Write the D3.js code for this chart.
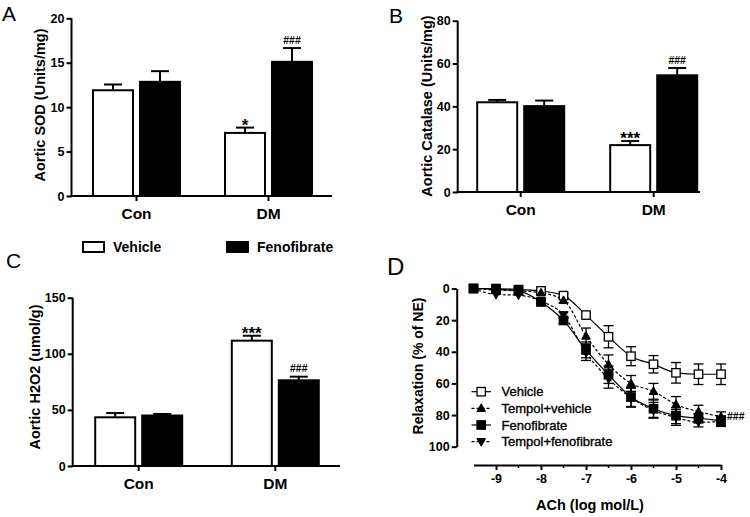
<!DOCTYPE html>
<html><head><meta charset="utf-8">
<script src="https://cdn.jsdelivr.net/npm/d3@7"></script>
<style>
body{margin:0;background:#fff;}
svg{display:block;}
</style></head>
<body>
<script>
// ---------- data ----------
const groups = ["Con", "DM"];
const seriesNames = ["Vehicle", "Fenofibrate"];

const sodVehicle = [11.9, 7.1];
const sodVehicleErr = [0.65, 0.6];
const sodFeno = [12.85, 15.1];
const sodFenoErr = [1.2, 1.55];
const sodMarks = ["", "", "*", "###"];
const sodTicks = [0, 5, 10, 15, 20];

const catVehicle = [41.9, 21.9];
const catVehicleErr = [1.1, 1.9];
const catFeno = [40.1, 54.5];
const catFenoErr = [2.6, 3.4];
const catMarks = ["", "", "***", "###"];
const catTicks = [0, 20, 40, 60, 80];

const h2o2Vehicle = [43.4, 111.7];
const h2o2VehicleErr = [3.8, 4.4];
const h2o2Feno = [45.0, 76.4];
const h2o2FenoErr = [1.4, 3.2];
const h2o2Marks = ["", "", "***", "###"];
const h2o2Ticks = [0, 50, 100, 150];

const logConc = [-9.5, -9, -8.5, -8, -7.5, -7, -6.5, -6, -5.5, -5, -4.5, -4];
const vehicleMean = [0, 0, 0.7, 1.5, 4.5, 16.8, 30.5, 42.8, 47.9, 53.3, 54.2, 54.2];
const vehicleErr = [0, 0.6, 0.8, 1, 1.2, 1.5, 7, 6, 5.5, 6.5, 6.5, 6.5];
const tempolVehMean = [0, 1, 1.5, 2.7, 7.5, 30, 48, 60, 65, 73.3, 77.8, 81];
const tempolVehErr = [0, 0.5, 0.8, 1, 1.5, 5, 6, 5, 5, 5, 4, 3];
const fenoMean = [0, 0.5, 1.5, 8.5, 20.2, 38.8, 54.5, 68.6, 76, 80.4, 82, 83.5];
const fenoErr = [0, 0.5, 0.8, 1.2, 2, 5, 5.5, 6, 5.5, 5, 3, 3];
const tempolFenoMean = [0, 3.8, 4.2, 8, 16.8, 40.5, 57, 69, 77, 81.5, 84.5, 84.2];
const tempolFenoErr = [0, 0.6, 0.8, 1.2, 2, 5, 6, 6, 5, 5, 3, 3];
const curveNames = ["Vehicle", "Tempol+vehicle", "Fenofibrate", "Tempol+fenofibrate"];
const xTicksD = [-9, -8, -7, -6, -5, -4];
const xMinorD = [-8.5, -7.5, -6.5, -5.5, -4.5];
const yTicksD = [0, 20, 40, 60, 80, 100];

// ---------- drawing ----------
const W = 750, H = 517;
const svg = d3.select("body").append("svg").attr("width", W).attr("height", H);
svg.append("rect").attr("width", W).attr("height", H).attr("fill", "#fff");

const ARIAL = "'Liberation Sans', Arial, sans-serif";

function panelLetter(t, x, y, size) {
  svg.append("text").attr("x", x).attr("y", y).text(t)
    .attr("font-family", ARIAL).attr("font-size", size).attr("fill", "#000");
}

function barPanel(o) {
  const g = svg.append("g");
  const y = d3.scaleLinear().domain([0, o.max]).range([o.y0, o.yTop]);
  const x = d3.scaleBand().domain(groups).range([o.c0 - o.step / 2, o.c0 + o.step * 1.5]);
  const xs = d3.scaleBand().domain(seriesNames).range([0, 87]).paddingInner(2 - 87 / 47);
  const vals = [[o.veh, o.vehErr], [o.feno, o.fenoErr]];
  const rows = [];
  groups.forEach((grp, gi) => {
    seriesNames.forEach((s, si) => {
      rows.push({grp, s, si, v: vals[si][0][gi], e: vals[si][1][gi], mark: o.marks[gi * 2 + si]});
    });
  });
  const bx = d => x(d.grp) + x.bandwidth() / 2 - 43.5 + xs(d.s);
  rows.forEach(d => {
    const cx = bx(d) + xs.bandwidth() / 2;
    g.append("line").attr("x1", cx).attr("x2", cx).attr("y1", y(d.v)).attr("y2", y(d.v + d.e))
      .attr("stroke", "#000").attr("stroke-width", 2);
    g.append("line").attr("x1", cx - 9).attr("x2", cx + 9).attr("y1", y(d.v + d.e)).attr("y2", y(d.v + d.e))
      .attr("stroke", "#000").attr("stroke-width", 2);
    if (d.mark) {
      const star = d.mark.startsWith("*");
      g.append("text").attr("x", cx).attr("y", star ? y(d.v + d.e) + 3 : y(d.v + d.e) - 4.5)
        .attr("text-anchor", "middle").text(d.mark)
        .attr("font-family", ARIAL).attr("font-weight", "bold")
        .attr("font-size", star ? 17 : 10.5).attr("fill", "#000");
    }
  });
  g.selectAll("rect.bar").data(rows).join("rect").attr("class", "bar")
    .attr("x", bx).attr("width", xs.bandwidth())
    .attr("y", d => y(d.v)).attr("height", d => y(0) - y(d.v))
    .attr("fill", d => d.si === 0 ? "#fff" : "#000")
    .attr("stroke", "#000").attr("stroke-width", 2);
  const ya = g.append("g").attr("transform", `translate(${o.ax},0)`)
    .call(d3.axisLeft(y).tickValues(o.ticks).tickSize(5).tickSizeOuter(0).tickPadding(2));
  ya.select(".domain").attr("stroke-width", 2).attr("d", `M0,${o.y0}V${o.yTop}`);
  ya.selectAll(".tick line").attr("stroke-width", 2);
  ya.selectAll("text").attr("font-family", ARIAL).attr("font-weight", "bold").attr("font-size", 12.5).attr("fill", "#000");
  g.append("line").attr("x1", o.ax - 1).attr("x2", o.xEnd).attr("y1", o.y0).attr("y2", o.y0)
    .attr("stroke", "#000").attr("stroke-width", 2);
  const xa = g.append("g").attr("transform", `translate(0,${o.y0})`)
    .call(d3.axisBottom(x).tickSize(5).tickPadding(7));
  xa.select(".domain").remove();
  xa.selectAll(".tick line").attr("stroke-width", 2);
  xa.selectAll("text").attr("font-family", ARIAL).attr("font-weight", "bold").attr("font-size", 15.5).attr("fill", "#000");
  g.append("text").attr("transform", `translate(${o.tx},${o.ty}) rotate(-90)`)
    .attr("text-anchor", "middle").attr("dy", "0.35em").text(o.title)
    .attr("font-family", ARIAL).attr("font-weight", "bold").attr("font-size", 14.5).attr("fill", "#000");
}

panelLetter("A", 2, 21, 21);
barPanel({veh: sodVehicle, vehErr: sodVehicleErr, feno: sodFeno, fenoErr: sodFenoErr, marks: sodMarks,
  ticks: sodTicks, max: 20, y0: 196, yTop: 18.3, ax: 71.5, c0: 136.5, step: 132, xEnd: 332,
  title: "Aortic SOD (Units/mg)", tx: 40, ty: 105});

panelLetter("B", 389, 23, 21);
barPanel({veh: catVehicle, vehErr: catVehicleErr, feno: catFeno, fenoErr: catFenoErr, marks: catMarks,
  ticks: catTicks, max: 80, y0: 192, yTop: 20.7, ax: 457.7, c0: 520.7, step: 133, xEnd: 700,
  title: "Aortic Catalase (Units/mg)", tx: 427, ty: 106});

panelLetter("C", 6, 268, 21);
barPanel({veh: h2o2Vehicle, vehErr: h2o2VehicleErr, feno: h2o2Feno, fenoErr: h2o2FenoErr, marks: h2o2Marks,
  ticks: h2o2Ticks, max: 150, y0: 466, yTop: 297.7, ax: 72.7, c0: 138.7, step: 136.6, xEnd: 340,
  title: "Aortic H2O2 (umol/g)", tx: 35, ty: 377});

const leg = svg.append("g");
seriesNames.forEach((s, i) => {
  const lx = [83, 227][i];
  leg.append("rect").attr("x", lx).attr("y", 242).attr("width", 21).attr("height", 10)
    .attr("fill", i === 0 ? "#fff" : "#000").attr("stroke", "#000").attr("stroke-width", 2);
  leg.append("text").attr("x", lx + 30).attr("y", 247).attr("dy", "0.36em").text(s)
    .attr("font-family", ARIAL).attr("font-weight", "bold").attr("font-size", 14).attr("fill", "#000");
});

// ---------- panel D ----------
panelLetter("D", 387, 275, 24);
const gD = svg.append("g");
const xD = d3.scaleLinear().domain([-9.5, -4]).range([473.5, 721]);
const yD = d3.scaleLinear().domain([0, 100]).range([288.5, 446.7]);

const yaD = gD.append("g").attr("transform", "translate(456.7,0)")
  .call(d3.axisLeft(yD).tickValues(yTicksD).tickSize(5).tickSizeOuter(0).tickPadding(2));
yaD.select(".domain").attr("stroke-width", 2);
yaD.selectAll(".tick line").attr("stroke-width", 2);
yaD.selectAll("text").attr("font-family", ARIAL).attr("font-weight", "bold").attr("font-size", 12.5).attr("fill", "#000");

const xaD = gD.append("g").attr("transform", "translate(0,465)")
  .call(d3.axisBottom(xD).tickValues(xTicksD).tickSize(5).tickSizeOuter(0).tickPadding(4)
    .tickFormat(d3.format("d")));
xaD.select(".domain").attr("stroke-width", 2);
xaD.selectAll(".tick line").attr("stroke-width", 2);
xaD.selectAll("text").attr("font-family", ARIAL).attr("font-weight", "bold").attr("font-size", 12.5).attr("fill", "#000")
  .text(d => "-" + Math.abs(d));
gD.selectAll("line.minor").data(xMinorD).join("line").attr("class", "minor")
  .attr("x1", d => xD(d)).attr("x2", d => xD(d)).attr("y1", 465).attr("y2", 468)
  .attr("stroke", "#000").attr("stroke-width", 1.5);

gD.append("text").attr("x", 590).attr("y", 505).attr("text-anchor", "middle").attr("dy", "0.35em")
  .text("ACh (log mol/L)").attr("font-family", ARIAL).attr("font-weight", "bold").attr("font-size", 14.5).attr("fill", "#000");
gD.append("text").attr("transform", "translate(418,366) rotate(-90)").attr("text-anchor", "middle").attr("dy", "0.35em")
  .text("Relaxation (% of NE)").attr("font-family", ARIAL).attr("font-weight", "bold").attr("font-size", 14).attr("fill", "#000");

const curves = [
  {name: curveNames[0], m: vehicleMean, e: vehicleErr, sym: "square", fill: "#fff", dash: null},
  {name: curveNames[1], m: tempolVehMean, e: tempolVehErr, sym: "up", fill: "#000", dash: "3,2"},
  {name: curveNames[2], m: fenoMean, e: fenoErr, sym: "square", fill: "#000", dash: null},
  {name: curveNames[3], m: tempolFenoMean, e: tempolFenoErr, sym: "down", fill: "#000", dash: "3,2"}
];

function drawSym(g, sym, fill, cx, cy) {
  if (sym === "square") {
    g.append("rect").attr("x", cx - 4.2).attr("y", cy - 4.2).attr("width", 8.4).attr("height", 8.4)
      .attr("fill", fill).attr("stroke", "#000").attr("stroke-width", 1.3);
  } else {
    const s = sym === "up" ? 1 : -1;
    g.append("path").attr("d", `M${cx},${cy - 4.5 * s}L${cx + 4.3},${cy + 3.2 * s}L${cx - 4.3},${cy + 3.2 * s}Z`)
      .attr("fill", fill).attr("stroke", "#000").attr("stroke-width", 1);
  }
}

const lineGen = d3.line().x(d => xD(d[0])).y(d => yD(d[1])).curve(d3.curveMonotoneX);
curves.forEach(c => {
  const pts = logConc.map((x, i) => [x, c.m[i], c.e[i]]);
  gD.append("path").attr("d", lineGen(pts)).attr("fill", "none").attr("stroke", "#000")
    .attr("stroke-width", 1.2).attr("stroke-dasharray", c.dash);
  pts.forEach(p => {
    if (p[2] > 0.9) {
      const cx = xD(p[0]);
      gD.append("line").attr("x1", cx).attr("x2", cx).attr("y1", yD(p[1] - p[2])).attr("y2", yD(p[1] + p[2]))
        .attr("stroke", "#000").attr("stroke-width", 1.3);
      [p[1] - p[2], p[1] + p[2]].forEach(v => gD.append("line").attr("x1", cx - 5).attr("x2", cx + 5)
        .attr("y1", yD(v)).attr("y2", yD(v)).attr("stroke", "#000").attr("stroke-width", 1.3));
    }
  });
});
curves.forEach(c => {
  logConc.forEach((x, i) => drawSym(gD, c.sym, c.fill, xD(x), yD(c.m[i])));
});
gD.append("text").attr("x", 727).attr("y", 416).attr("dy", "0.35em").text("###")
  .attr("font-family", ARIAL).attr("font-weight", "bold").attr("font-size", 10.5).attr("fill", "#000");

curves.forEach((c, i) => {
  const ly = [391.7, 408.3, 425, 441.7][i];
  gD.append("line").attr("x1", 471.5).attr("x2", 491).attr("y1", ly).attr("y2", ly)
    .attr("stroke", "#000").attr("stroke-width", 1.2).attr("stroke-dasharray", c.dash);
  drawSym(gD, c.sym, c.fill, 481.2, ly);
  gD.append("text").attr("x", 501.5).attr("y", ly).attr("dy", "0.35em").text(c.name)
    .attr("font-family", ARIAL).attr("font-size", 13).attr("fill", "#000")
    .attr("stroke", "#000").attr("stroke-width", 0.35);
});
</script>
</body></html>
